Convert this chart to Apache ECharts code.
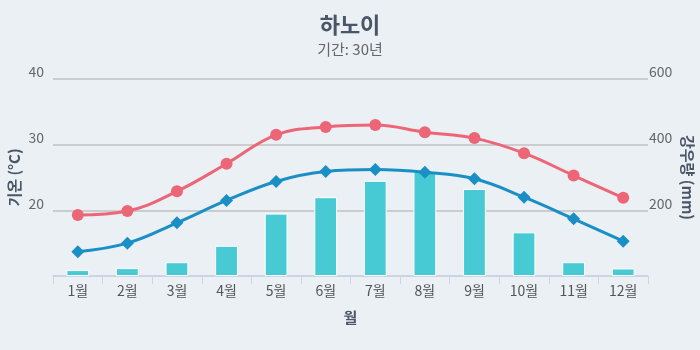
<!DOCTYPE html>
<html><head><meta charset="utf-8">
<script src="https://cdn.jsdelivr.net/npm/echarts@6/dist/echarts.min.js"></script>
<style>html,body{margin:0;padding:0;background:#ebf0f5}#c{width:700px;height:350px}</style>
</head><body><div id="c"></div>
<script>
const months = ['1월','2월','3월','4월','5월','6월','7월','8월','9월','10월','11월','12월'];
const rainfall = [18, 24, 42, 92, 190, 240, 290, 318, 265, 133, 42, 23];
const tempMax = [19.3, 19.9, 22.9, 27.1, 31.5, 32.7, 33.0, 31.9, 31.0, 28.7, 25.3, 21.9];
const tempMin = [13.7, 15.0, 18.1, 21.5, 24.4, 25.9, 26.2, 25.8, 24.8, 22.0, 18.7, 15.3];
const titleText = '하노이';
const subText = '기간: 30년';
const font = '"Noto Sans CJK KR", "Noto Sans", sans-serif';
const chart = echarts.init(document.getElementById('c'));
chart.setOption({
  backgroundColor: '#ebf0f5',
  animation: false,
  textStyle: { fontFamily: font },
  title: {
    text: titleText, subtext: subText, left: 'center', top: 9, itemGap: 6,
    textStyle: { fontSize: 22, fontWeight: 'bold', color: '#4a5568', fontFamily: font },
    subtextStyle: { fontSize: 15, color: '#666', fontFamily: font }
  },
  grid: { left: 53, right: 52, top: 79, bottom: 74, outerBoundsMode: 'none', containLabel: false },
  xAxis: {
    type: 'category', data: months, name: '월', nameLocation: 'middle', nameGap: 34, nameMoveOverlap: false,
    nameTextStyle: { fontSize: 15, fontWeight: 'bold', color: '#4a5568', fontFamily: font },
    axisLine: { lineStyle: { color: '#ccd6eb', width: 1.5 } },
    axisTick: { show: true, length: 8, lineStyle: { color: '#ccd6eb' } },
    axisLabel: { color: '#555', fontSize: 14, margin: 8 }
  },
  yAxis: [
    { type: 'value', min: 10, max: 40, interval: 10, name: '기온 (°C)', nameLocation: 'middle', nameGap: 31,
      nameMoveOverlap: false,
      nameTextStyle: { fontSize: 15, fontWeight: 'bold', color: '#4a5568', fontFamily: font },
      axisLine: { show: false }, axisTick: { show: false },
      axisLabel: { color: '#666', fontSize: 14, margin: 9, verticalAlign: 'bottom',
        formatter: v => v === 10 ? '' : v },
      splitLine: { lineStyle: { color: '#c0c0c0', width: 1.5 } } },
    { type: 'value', min: 0, max: 600, interval: 200, name: '강우량 (mm)', nameLocation: 'middle', nameGap: 32,
      nameRotate: -90, nameMoveOverlap: false,
      nameTextStyle: { fontSize: 15, fontWeight: 'bold', color: '#4a5568', fontFamily: font },
      axisLine: { show: false }, axisTick: { show: false },
      axisLabel: { color: '#666', fontSize: 14, margin: 1, verticalAlign: 'bottom',
        formatter: v => v === 0 ? '' : v },
      splitLine: { show: false } }
  ],
  series: [
    { type: 'bar', yAxisIndex: 1, data: rainfall, barWidth: '46%',
      itemStyle: { color: '#48cad4', borderColor: '#ffffff', borderWidth: 1 } },
    { type: 'line', yAxisIndex: 0, data: tempMax, smooth: 0.4, symbol: 'circle', symbolSize: 12,
      lineStyle: { color: '#ec6677', width: 3 }, itemStyle: { color: '#ec6677' } },
    { type: 'line', yAxisIndex: 0, data: tempMin, smooth: 0.4, symbol: 'diamond', symbolSize: 13,
      lineStyle: { color: '#1a8fc6', width: 3 }, itemStyle: { color: '#1a8fc6' } }
  ]
});
</script></body></html>
